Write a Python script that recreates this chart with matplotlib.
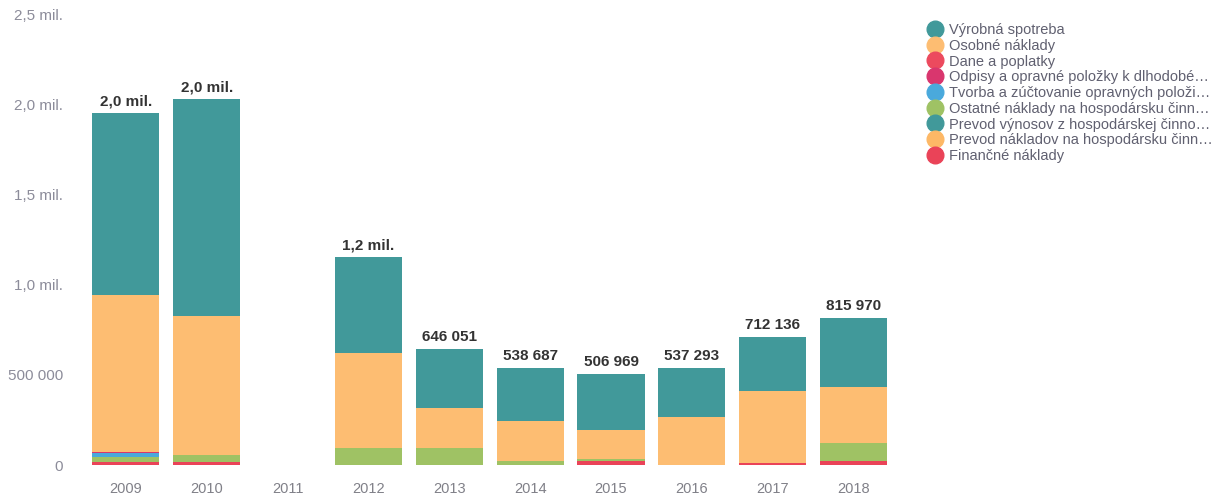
import matplotlib.pyplot as plt
from matplotlib.lines import Line2D

plt.rcParams['font.family'] = ['Liberation Sans', 'DejaVu Sans']

years = ['2009', '2010', '2011', '2012', '2013', '2014', '2015', '2016', '2017', '2018']

# series, in legend order
vyrobna = [1010000, 1204000, 0, 533000, 330051, 291687, 311969, 271293, 300136, 379970]
osobne = [871000, 771000, 0, 527000, 222000, 222000, 160000, 266000, 400000, 316000]
dane = [0, 0, 0, 0, 0, 0, 0, 0, 0, 0]
odpisy = [6000, 0, 0, 0, 0, 0, 0, 0, 0, 0]
tvorba = [22000, 0, 0, 0, 0, 0, 0, 0, 0, 0]
ostatne = [28000, 39000, 0, 94000, 94000, 25000, 15000, 0, 0, 100000]
prevod_vynosov = [0, 0, 0, 0, 0, 0, 0, 0, 0, 0]
prevod_nakladov = [0, 0, 0, 0, 0, 0, 0, 0, 0, 0]
financne = [17000, 17000, 0, 0, 0, 0, 20000, 0, 12000, 20000]

names = ['Výrobná spotreba', 'Osobné náklady', 'Dane a poplatky',
         'Odpisy a opravné položky k dlhodobé…', 'Tvorba a zúčtovanie opravných položi…',
         'Ostatné náklady na hospodársku činn…', 'Prevod výnosov z hospodárskej činno…',
         'Prevod nákladov na hospodársku činn…', 'Finančné náklady']
series = [vyrobna, osobne, dane, odpisy, tvorba, ostatne, prevod_vynosov, prevod_nakladov, financne]
colors = ['#41999a', '#fdbd72', '#ec4a5e', '#d9366e', '#4aa9dc', '#9fc264', '#41999a', '#fdb866', '#ea4358']

fig = plt.figure(figsize=(12.14, 4.94), dpi=100)
ax = fig.add_axes([0.0704, 0.0587, 0.666, 0.911])

x = range(len(years))
bottom = [0] * len(years)
# last series sits at the bottom of the stack
for vals, col in zip(series[::-1], colors[::-1]):
    ax.bar(x, vals, bottom=bottom, width=0.83, color=col, linewidth=0)
    bottom = [b + v for b, v in zip(bottom, vals)]

for i, tot in enumerate(bottom):
    if tot == 0:
        continue
    if tot >= 1000000:
        lab = f'{tot / 1e6:.1f}'.replace('.', ',') + ' mil.'
    else:
        lab = f'{tot:,}'.replace(',', ' ')
    ax.text(i, tot + 28000, lab, ha='center', va='bottom', fontsize=11,
            fontweight='bold', color='#333333')

ax.set_xlim(-0.5, 9.5)
ax.set_ylim(0, 2500000)
ticks = [0, 500000, 1000000, 1500000, 2000000, 2500000]
ax.set_yticks(ticks)
ax.set_yticklabels(['0', '500 000', '1,0 mil.', '1,5 mil.', '2,0 mil.', '2,5 mil.'])
ax.set_xticks(list(x))
ax.set_xticklabels(years)
ax.tick_params(axis='y', length=0, pad=16, labelsize=11, labelcolor='#8c8c9a')
ax.tick_params(axis='x', length=0, pad=12.5, labelsize=10.5, labelcolor='#808088')
for s in ax.spines.values():
    s.set_visible(False)

handles = [Line2D([], [], marker='o', linestyle='', markersize=12, color=c) for c in colors]
fig.legend(handles, names, loc='upper left', bbox_to_anchor=(0.757, 0.968), frameon=False,
           fontsize=10.5, labelspacing=0.12, handletextpad=0.35, handlelength=1.2,
           labelcolor='#606070', borderpad=0)

fig.savefig('out.png', dpi=100)
